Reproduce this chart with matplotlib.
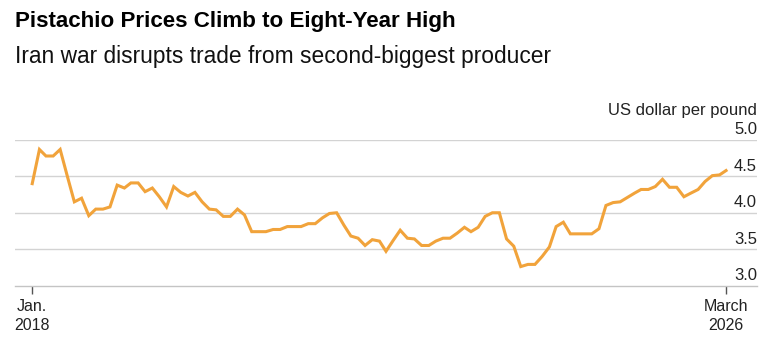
import numpy as np
import pandas as pd
import matplotlib
matplotlib.use("Agg")
import matplotlib.pyplot as plt
import matplotlib.dates as mdates

# Monthly pistachio price, US dollar per pound
dates = pd.date_range("2018-01-01", "2026-03-01", freq="MS")
prices = [
    4.40, 4.87, 4.78, 4.78, 4.87, 4.50, 4.15, 4.20, 3.96, 4.05, 4.05, 4.08,
    4.38, 4.34, 4.41, 4.41, 4.29, 4.34, 4.22, 4.08, 4.36, 4.28, 4.23, 4.28,
    4.15, 4.05, 4.04, 3.95, 3.95, 4.05, 3.97, 3.74, 3.74, 3.74, 3.77, 3.77,
    3.81, 3.81, 3.81, 3.85, 3.85, 3.93, 3.99, 4.00, 3.83, 3.68, 3.65, 3.55,
    3.63, 3.61, 3.47, 3.62, 3.76, 3.65, 3.64, 3.55, 3.55, 3.61, 3.65, 3.65,
    3.72, 3.80, 3.74, 3.80, 3.95, 4.00, 4.00, 3.64, 3.54, 3.26, 3.29, 3.29,
    3.40, 3.53, 3.81, 3.87, 3.71, 3.71, 3.71, 3.71, 3.78, 4.10, 4.14, 4.15,
    4.21, 4.27, 4.32, 4.32, 4.36, 4.46, 4.35, 4.35, 4.22, 4.27, 4.32, 4.43,
    4.51, 4.52, 4.58,
]
yticks = [3.0, 3.5, 4.0, 4.5, 5.0]
xtick_dates = [pd.Timestamp("2018-01-01"), pd.Timestamp("2026-03-01")]
xtick_labels = ["Jan.\n2018", "March\n2026"]

title = "Pistachio Prices Climb to Eight-Year High"
subtitle = "Iran war disrupts trade from second-biggest producer"
unit = "US dollar per pound"

plt.rcParams["font.family"] = ["Liberation Sans", "DejaVu Sans"]

W, H = 772, 346
fig = plt.figure(figsize=(W / 100, H / 100), dpi=100)
ax = fig.add_axes([15 / W, (H - 285.5) / H, (757 - 15) / W, 145.5 / H])

ax.plot(dates, prices, color="#f1a33b", lw=2.2, solid_joinstyle="miter", zorder=3)

ax.set_ylim(3.0, 5.0)
ax.set_xlim(pd.Timestamp("2018-01-01") - pd.Timedelta(days=74),
            pd.Timestamp("2026-03-01") + pd.Timedelta(days=133))

for v in yticks[1:]:
    ax.axhline(v, color="#d3d3d3", lw=1, zorder=1)
for v in yticks:
    ax.text(1.0, v + 0.035, f"{v:.1f}", transform=ax.get_yaxis_transform(),
            ha="right", va="bottom", fontsize=12, color="#222222", clip_on=False)
ax.text(1.0, 5.0 + 0.3, unit, transform=ax.get_yaxis_transform(),
        ha="right", va="bottom", fontsize=12, color="#222222", clip_on=False)

for s in ["top", "left", "right"]:
    ax.spines[s].set_visible(False)
ax.spines["bottom"].set_color("#c4c4c4")
ax.spines["bottom"].set_linewidth(1)
ax.set_yticks([])
ax.set_xticks(xtick_dates)
ax.set_xticklabels(xtick_labels, fontsize=11.5, color="#222222", linespacing=1.3)
ax.tick_params(axis="x", length=6, width=1, color="#555555", pad=4)

fig.text(15 / W, 1 - 22 / H, title, fontsize=16.1, fontweight="bold",
         va="center", ha="left", color="#000000")
fig.text(15 / W, 1 - 57 / H, subtitle, fontsize=16.4, va="center", ha="left",
         color="#111111")

fig.savefig("out.png", dpi=100)
